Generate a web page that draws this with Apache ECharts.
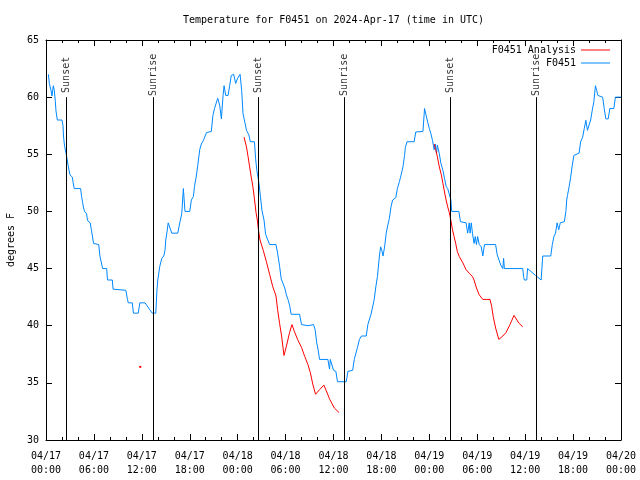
<!DOCTYPE html>
<html>
<head>
<meta charset="utf-8">
<script src="https://cdn.jsdelivr.net/npm/echarts@6/dist/echarts.min.js"></script>
<style>
html,body{margin:0;padding:0;background:#fff;}
#chart{width:640px;height:480px;}
</style>
</head>
<body>
<div id="chart"></div>
<script>
// Hours since 04/17 00:00 UTC
var obsHours = [0.3,0.42,0.63,0.75,0.92,1.04,1.17,1.25,1.42,2.0,2.13,2.2,2.33,2.54,2.8,3.0,3.3,3.4,3.54,4.33,4.46,4.58,4.7,4.83,5.08,5.2,5.54,5.7,5.96,6.6,6.75,7.0,7.1,7.6,7.7,8.3,8.4,8.5,10.0,10.2,10.3,10.8,10.95,11.55,11.75,12.4,13.0,13.3,13.75,13.9,14.0,14.25,14.5,14.75,14.9,15.0,15.15,15.3,15.5,15.75,16.5,16.75,17.0,17.2,17.4,18.0,18.2,18.45,18.6,18.8,19.0,19.25,19.45,19.7,20.1,20.7,20.9,21.1,21.3,21.5,21.75,21.96,22.17,22.3,22.5,22.8,23.0,23.2,23.5,23.75,23.96,24.3,24.5,24.67,24.9,25.1,25.4,25.58,26.1,26.25,26.4,26.67,26.85,27.04,27.3,27.5,28.0,28.8,29.0,29.25,29.45,29.67,29.9,30.1,30.3,30.5,30.7,31.75,32.0,32.8,33.5,33.7,33.9,34.1,34.25,35.3,35.5,35.6,35.85,36.0,36.3,36.5,37.6,37.8,38.4,38.6,38.8,39.0,39.25,39.5,40.1,40.3,40.5,40.7,40.9,41.1,41.3,41.5,41.75,41.9,42.05,42.2,42.4,42.6,42.8,43.0,43.2,43.4,43.5,43.8,44.0,44.25,44.4,44.7,44.9,45.0,45.2,46.1,46.3,47.2,47.4,47.6,47.8,48.0,48.2,48.4,48.6,48.75,48.9,49.0,49.25,49.45,49.7,49.9,50.1,50.3,50.5,50.7,50.8,51.7,51.9,52.6,52.8,53.0,53.1,53.25,53.4,53.6,53.75,53.9,54.05,54.25,54.5,54.7,54.9,56.3,56.5,56.75,56.95,57.2,57.3,57.4,59.7,59.8,59.9,60.2,60.3,60.5,61.3,62.0,62.2,63.2,63.4,63.6,63.8,64.0,64.2,64.4,64.6,64.9,65.1,65.2,65.3,65.5,65.7,65.9,66.1,66.3,66.75,66.95,67.2,67.4,67.6,67.8,68.0,68.2,68.4,68.6,68.8,68.95,69.1,69.7,69.9,70.1,70.4,70.6,71.1,71.3,72.0];
var obsTemps = [62.0,61.2,60.6,60.1,61.0,60.6,59.6,58.8,58.0,58.0,57.5,56.5,55.7,55.0,53.9,53.2,53.0,52.5,52.0,52.0,51.3,50.8,50.3,50.0,49.8,49.2,49.0,48.3,47.2,47.1,46.1,45.3,45.0,45.0,44.0,44.0,43.2,43.1,43.1,42.3,42.0,42.0,41.1,41.1,42.0,42.0,41.4,41.1,41.1,43.2,44.0,45.2,45.9,46.1,46.6,47.5,48.2,49.0,49.0,48.1,48.1,49.0,49.8,52.0,50.0,50.0,51.0,51.3,52.2,53.0,54.0,55.4,55.9,56.2,56.9,57.0,58.4,59.0,59.1,59.9,59.3,58.1,60.15,61.0,60.15,60.15,61.0,61.9,62.0,61.2,61.6,62.0,60.6,58.55,57.8,57.1,56.7,56.1,56.1,54.6,53.6,52.45,51.3,50.1,49.25,48.0,47.1,47.1,46.35,45.2,44.1,44.0,43.3,42.7,42.3,41.8,41.0,41.0,40.1,40.0,40.1,39.65,38.5,37.8,37.05,37.05,36.2,37.05,37.05,36.1,36.0,35.1,35.1,36.0,36.1,37.05,37.2,38.1,38.8,39.1,39.1,40.1,40.2,41.0,41.1,42.3,43.4,44.3,46.1,46.9,46.6,46.1,46.9,48.1,48.8,49.4,50.4,51.0,51.1,51.2,52.0,52.6,53.0,53.9,54.9,55.6,56.1,56.1,56.95,57.0,59.0,58.4,57.8,57.25,56.8,56.2,55.4,55.9,55.05,55.8,55.05,54.2,53.6,52.9,52.2,52.0,51.9,51.0,50.0,50.0,49.1,49.0,48.1,49.0,48.1,49.0,48.1,47.2,47.8,47.1,47.8,47.1,46.9,46.1,47.1,47.1,46.2,46.1,45.3,45.0,45.9,45.0,45.0,44.3,44.0,44.0,45.0,44.9,44.4,44.0,46.1,46.1,47.1,47.8,48.1,49.0,48.4,49.0,49.0,49.1,50.0,51.0,51.4,52.15,53.0,54.05,54.9,55.0,55.1,56.1,56.5,57.25,57.97,57.1,57.1,58.0,58.85,59.6,61.0,60.6,60.15,60.0,59.0,58.1,58.1,59.0,59.0,60.0,60.0];

var anaHours = [11.8,12.0,24.8,25.1,25.3,25.5,25.7,25.9,26.1,26.3,26.46,26.6,26.8,27.2,27.6,28.0,28.4,28.8,29.0,29.25,29.5,29.8,30.1,30.5,30.8,31.1,31.5,32.0,32.4,32.8,33.1,33.4,33.75,34.25,34.8,35.1,35.5,36.1,36.7,40.0,48.6,48.8,49.0,49.25,49.5,49.7,49.9,50.1,50.3,50.5,50.7,50.9,51.1,51.3,51.5,51.75,52.2,52.6,53.0,53.4,53.6,53.9,54.25,54.7,55.2,55.6,55.8,56.0,56.3,56.7,57.2,57.6,58.1,58.6,59.25,59.7];
var anaTemps = [36.4,null,56.5,55.65,54.8,53.9,53.0,52.2,51.1,49.9,49.25,48.4,47.5,46.6,45.6,44.5,43.4,42.6,41.4,40.2,39.1,37.4,38.2,39.4,40.1,39.5,38.8,38.1,37.3,36.6,35.9,34.9,34.0,34.4,34.8,34.3,33.6,32.8,32.4,null,55.9,55.4,54.8,53.9,53.2,52.45,51.7,51.0,50.4,49.9,49.2,48.4,47.8,47.2,46.5,46.05,45.5,44.9,44.6,44.3,44.0,43.3,42.7,42.3,42.3,42.3,41.7,40.8,39.8,38.8,39.1,39.4,40.1,40.9,40.2,39.9];

var eventNames = ['Sunset','Sunrise','Sunset','Sunrise','Sunset','Sunrise'];
var eventHours = [2.55,13.43,26.57,37.37,50.6,61.38];
var eventLineBottom = 30, eventLineTop = 60, eventLabelAt = 61.95;

var xTickLabels = ['04/17\n00:00','04/17\n06:00','04/17\n12:00','04/17\n18:00','04/18\n00:00','04/18\n06:00','04/18\n12:00','04/18\n18:00','04/19\n00:00','04/19\n06:00','04/19\n12:00','04/19\n18:00','04/20\n00:00'];
var titleText = 'Temperature for F0451 on 2024-Apr-17 (time in UTC)';

var MONO = '"DejaVu Sans Mono", "Liberation Mono", monospace';
var BLUE = '#0088ff', RED = '#ff0000';

var obsData = obsHours.map(function(h,i){ return [h, obsTemps[i]]; });
var anaData = anaHours.map(function(h,i){
  var v = anaTemps[i];
  if (i === 0) return {value:[h, v], symbol:'rect', symbolSize:2, itemStyle:{color:RED}};
  return [h, v === null ? '-' : v];
});
var evData = eventHours.map(function(h,i){ return {name:eventNames[i], value:[h, eventLabelAt]}; });
var evLines = eventHours.map(function(h){ return [{coord:[h,eventLineBottom]},{coord:[h,eventLineTop]}]; });

var chart = echarts.init(document.getElementById('chart'), null, {renderer:'canvas'});
var axisCommon = {
  axisLine:{show:true, onZero:false, lineStyle:{color:'#000', width:1}},
  splitLine:{show:false}
};
var legendText = {fontFamily:MONO, fontSize:10, color:'#000', lineHeight:12};
chart.setOption({
  animation:false,
  backgroundColor:'#fff',
  title:{text:titleText, left:183, top:14, padding:0,
    textStyle:{fontFamily:MONO, fontSize:10, fontWeight:'normal', color:'#000', lineHeight:12}},
  legend:[
    {id:'legA', show:true, orient:'horizontal', data:['F0451 Analysis'], right:30, top:44, padding:0, align:'right',
     itemWidth:29, itemHeight:1, icon:'rect', selectedMode:false, textStyle:legendText},
    {id:'legB', show:true, orient:'horizontal', data:['F0451'], right:30, top:57, padding:0, align:'right',
     itemWidth:29, itemHeight:1, icon:'rect', selectedMode:false, textStyle:legendText}
  ],
  grid:{left:46, right:19, top:40, bottom:40, containLabel:false, outerBoundsMode:'none'},
  xAxis:[
    Object.assign({type:'value', position:'bottom', min:0, max:72, interval:6,
      axisTick:{show:true, inside:true, length:6, lineStyle:{color:'#000'}},
      minorTick:{show:true, splitNumber:3, length:3, lineStyle:{color:'#000'}},
      axisLabel:{show:true, margin:9, color:'#000', fontFamily:MONO, fontSize:10, lineHeight:14,
        formatter:function(v){ return xTickLabels[Math.round(v/6)]; }}
    }, axisCommon),
    Object.assign({type:'value', position:'top', min:0, max:72, interval:6,
      axisTick:{show:true, inside:true, length:6, lineStyle:{color:'#000'}},
      minorTick:{show:true, splitNumber:3, length:3, lineStyle:{color:'#000'}},
      axisLabel:{show:false}
    }, axisCommon)
  ],
  yAxis:[
    Object.assign({type:'value', position:'left', min:30, max:65, interval:5,
      name:'degrees F', nameLocation:'middle', nameGap:30, nameRotate:90,
      nameTextStyle:{fontFamily:MONO, fontSize:10, color:'#000'},
      axisTick:{show:true, inside:true, length:6, lineStyle:{color:'#000'}},
      axisLabel:{show:true, margin:7, color:'#000', fontFamily:MONO, fontSize:10}
    }, axisCommon),
    Object.assign({type:'value', position:'right', min:30, max:65, interval:5,
      axisTick:{show:true, inside:true, length:6, lineStyle:{color:'#000'}},
      axisLabel:{show:false}
    }, axisCommon)
  ],
  series:[
    {name:'F0451 Analysis', type:'line', xAxisIndex:0, yAxisIndex:0, data:anaData,
     symbol:'none', showSymbol:true, connectNulls:false, z:4,
     lineStyle:{color:RED, width:1}, itemStyle:{color:RED}},
    {name:'F0451', type:'line', xAxisIndex:0, yAxisIndex:0, data:obsData,
     symbol:'none', z:3,
     lineStyle:{color:BLUE, width:1}, itemStyle:{color:BLUE}},
    {name:'events', type:'scatter', xAxisIndex:0, yAxisIndex:0, data:evData,
     symbolSize:0, silent:true, z:5,
     label:{show:true, position:'inside', rotate:90, formatter:'{b}', color:'#000',
       fontFamily:MONO, fontSize:10},
     markLine:{silent:true, symbol:['none','none'], animation:false,
       label:{show:false}, lineStyle:{color:'#000', type:'solid', width:1},
       data:evLines}}
  ]
});
</script>
</body>
</html>
